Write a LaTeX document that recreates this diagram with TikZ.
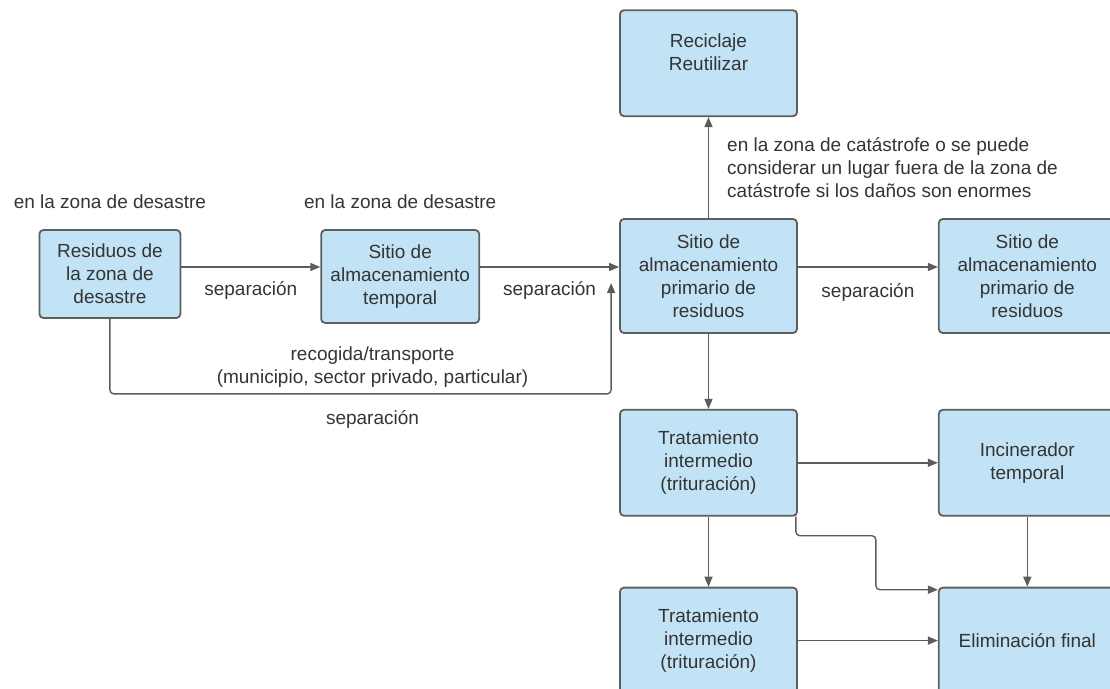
\documentclass[tikz,border=0pt]{standalone}
\usepackage{fontspec}
\setmainfont{Liberation Sans}
\usepackage{xcolor}
\usepackage{tikz}
\usetikzlibrary{arrows.meta,positioning}
\definecolor{boxfill}{RGB}{194,227,245}
\definecolor{boxline}{RGB}{94,94,94}
\definecolor{arrowgray}{RGB}{92,92,92}
\definecolor{txtgray}{RGB}{52,52,52}

\begin{document}
\begin{tikzpicture}[
  x=1pt,y=1pt,
  font=\fontsize{19}{23}\selectfont,
  box/.style={draw=boxline,line width=1.8pt,rounded corners=4pt,fill=boxfill,
              align=center,text=txtgray,minimum width=177pt,minimum height=106pt,inner sep=2pt},
  lbl/.style={text=txtgray,inner sep=0pt,align=center},
  arrow/.style={-{Triangle[length=10pt,width=8pt]},line width=1.4pt,draw=arrowgray}
]
\useasboundingbox (0,0) rectangle (1110,-688);
\node[box,minimum height=114pt] (prim) at (708.5,-276) {Sitio de\\almacenamiento\\primario de\\residuos};
\node[box,above=101pt of prim] (reci) {Reciclaje\\Reutilizar\\\mbox{}};
\node[box,minimum height=114pt,right=140pt of prim] (prim2) {Sitio de\\almacenamiento\\primario de\\residuos};
\node[box,below=75pt of prim] (trat1) {Tratamiento\\intermedio\\(trituración)};
\node[box,right=140pt of trat1] (inci) {Incinerador\\temporal};
\node[box,below=70pt of trat1] (trat2) {Tratamiento\\intermedio\\(trituración)};
\node[box,right=140pt of trat2] (elim) {Eliminación final};
\node[box,minimum width=158pt,minimum height=93pt,left=139pt of prim,yshift=-0.5pt] (temp) {Sitio de\\almacenamiento\\temporal};
\node[box,minimum width=141pt,minimum height=88pt,left=139pt of temp,yshift=2.5pt] (res) {Residuos de\\la zona de\\desastre};
\node[lbl,above=20pt of res.north,xshift=0pt] (zona1) {en la zona de desastre};
\node[lbl,above=20pt of temp.north] (zona2) {en la zona de desastre};
\coordinate (row) at ([yshift=9pt]prim.center);
\coordinate (tip) at ([xshift=-8pt,yshift=-7pt]prim.west);
\coordinate (busL) at ([yshift=-75pt]res.south);
\coordinate (busR) at (busL -| tip);
\draw[arrow] (res.east |- row) -- node[lbl,below=14pt] {separación} (temp.west |- row);
\draw[arrow] (temp.east |- row) -- node[lbl,below=14pt] {separación} (prim.west |- row);
\draw[arrow] (prim.east |- row) -- node[lbl,below=16pt] {separación} (prim2.west |- row);
\draw[arrow,rounded corners=4pt] (res.south) -- (busL)
  -- node[lbl,above=6pt,xshift=12pt] {recogida/transporte\\(municipio, sector privado, particular)}
     node[lbl,below=16pt,xshift=12pt] {separación} (busR) -- (tip);
\draw[arrow] (prim.north) -- node[lbl,right=18pt,align=left] {en la zona de catástrofe o se puede\\considerar un lugar fuera de la zona de\\catástrofe si los daños son enormes} (reci.south);
\draw[arrow] (prim.south) -- (trat1.north);
\draw[arrow] (trat1.east) -- (inci.west);
\draw[arrow] (trat1.south) -- (trat2.north);
\draw[arrow] (inci.south) -- (elim.north);
\draw[arrow] (trat2.east) -- (elim.west);
\draw[arrow,rounded corners=4pt] ([xshift=-2pt]trat1.south east)
  |- ([xshift=78pt,yshift=-19pt]trat1.south east) |- ([yshift=-3pt]elim.north west);
\end{tikzpicture}
\end{document}
